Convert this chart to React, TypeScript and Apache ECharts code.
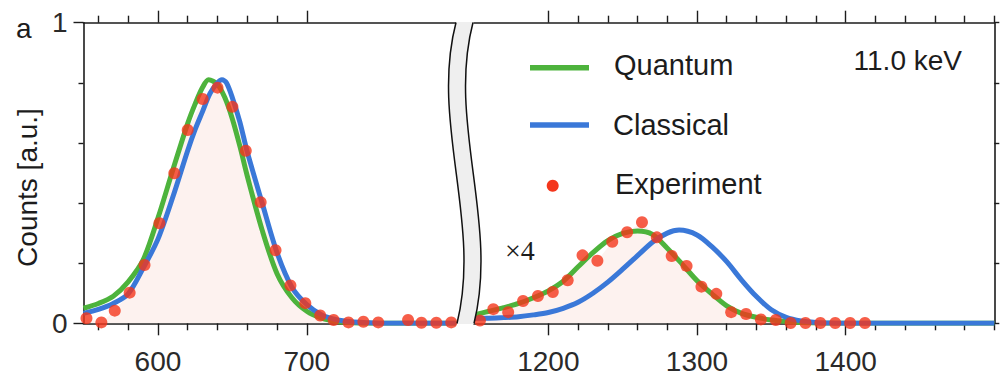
import React, { useEffect, useRef } from "react";
import * as echarts from "echarts";

// ---- Data ----
// Left segment (energy 550–800)
const quantumLeftX = [550, 560, 570, 580, 590, 600, 610, 620, 625, 630, 634, 640, 645, 650, 655, 660, 670, 680, 690, 700, 710, 720, 730, 740, 770, 800];
const quantumLeftY = [0.05, 0.066, 0.09, 0.138, 0.21, 0.35, 0.51, 0.665, 0.73, 0.785, 0.81, 0.795, 0.75, 0.68, 0.59, 0.49, 0.31, 0.165, 0.085, 0.04, 0.017, 0.006, 0.002, 0, 0, 0];
const classicalLeftX = [550, 560, 570, 580, 590, 600, 610, 620, 625, 630, 635, 640, 643, 646, 650, 655, 660, 670, 680, 690, 700, 710, 720, 730, 740, 750, 775, 800];
const classicalLeftY = [0.033, 0.046, 0.066, 0.098, 0.183, 0.28, 0.42, 0.575, 0.645, 0.705, 0.765, 0.8, 0.81, 0.8, 0.75, 0.67, 0.57, 0.4, 0.235, 0.12, 0.062, 0.028, 0.012, 0.005, 0.002, 0, 0, 0];
const experimentLeftX = [552, 562, 571, 581, 591, 601, 611, 620, 630, 640, 650, 659, 669, 679, 689, 699, 709, 718, 728, 738, 748, 768, 777, 787, 797];
const experimentLeftY = [0.017, 0.003, 0.042, 0.102, 0.194, 0.333, 0.499, 0.643, 0.746, 0.784, 0.72, 0.574, 0.403, 0.243, 0.126, 0.067, 0.026, 0.011, 0.003, 0.005, 0.003, 0.011, 0.002, 0.002, 0.003];

// Right segment (energy 1150–1500), shown ×4
const quantumRightX = [1150, 1160, 1170, 1180, 1190, 1200, 1210, 1220, 1230, 1240, 1250, 1260, 1270, 1280, 1290, 1300, 1310, 1320, 1330, 1340, 1350, 1360, 1370, 1380, 1390, 1450, 1500];
const quantumRightY = [0.028, 0.04, 0.052, 0.066, 0.085, 0.108, 0.14, 0.188, 0.235, 0.275, 0.299, 0.307, 0.296, 0.25, 0.197, 0.142, 0.098, 0.058, 0.033, 0.02, 0.011, 0.006, 0.003, 0.001, 0, 0, 0];
const classicalRightX = [1150, 1160, 1170, 1180, 1190, 1200, 1210, 1220, 1230, 1240, 1250, 1260, 1270, 1280, 1288, 1300, 1310, 1320, 1330, 1340, 1350, 1360, 1370, 1380, 1390, 1400, 1450, 1500];
const classicalRightY = [0.016, 0.017, 0.019, 0.022, 0.028, 0.036, 0.05, 0.07, 0.1, 0.137, 0.18, 0.225, 0.27, 0.3, 0.31, 0.294, 0.255, 0.205, 0.144, 0.089, 0.045, 0.02, 0.008, 0.003, 0.001, 0, 0, 0];
const experimentRightX = [1154, 1163, 1173, 1183, 1193, 1203, 1213, 1223, 1233, 1243, 1253, 1263, 1273, 1283, 1293, 1303, 1313, 1323, 1333, 1343, 1353, 1363, 1373, 1383, 1393, 1403, 1413];
const experimentRightY = [0.009, 0.047, 0.037, 0.074, 0.091, 0.104, 0.143, 0.226, 0.208, 0.271, 0.303, 0.336, 0.286, 0.224, 0.191, 0.122, 0.098, 0.037, 0.031, 0.013, 0.011, 0.001, 0.001, 0.001, 0.001, 0.001, 0.001];

// Axis ticks / labels
const leftMajorTicks = [600, 700];
const leftMinorTicks = [560, 580, 620, 640, 660, 680];
const rightMajorTicks = [1200, 1300, 1400];
const rightMinorTicks = [1220, 1240, 1260, 1280, 1320, 1340, 1360, 1380, 1420, 1440, 1460, 1480, 1500];
const yMajorTicks = [0, 1];
const yMinorTicks = [0.2, 0.4, 0.6, 0.8];
const yAllTicks = [0, 0.2, 0.4, 0.6, 0.8, 1];

const legendNames = ["Quantum", "Classical", "Experiment"];

// ---- Styles ----
const GREEN = "#4db33c";
const BLUE = "#3a78d8";
const RED = "#f4361c";
const FILL = "#fdf2ef";
const INK = "#1c1c1c";
const FONT = "'Liberation Sans', Arial, Helvetica, sans-serif";
const SERIF = "'Liberation Serif', 'Times New Roman', serif";
const SMOOTH = 0.3;

const breakFillPath = "M456,22 C430,122 482,223 457,324 L474,324 C499,223 447,122 473,22 Z";
echarts.graphic.registerShape("axisBreakFill", echarts.graphic.extendPath(breakFillPath, {}));

const pairs = (xs: number[], ys: number[]) => xs.map((x, i) => [x, ys[i]]);
const plain = (v: number) => String(v);

function xAxes(gridIndex: number, min: number, max: number, major: number[], minor: number[]) {
  const base = { type: "value", gridIndex, min, max, splitLine: { show: false } };
  const line = { show: true, onZero: false, lineStyle: { color: INK, width: 1.6 } };
  const tickStyle = { color: INK, width: 1.4 };
  return [
    {
      ...base,
      position: "bottom",
      axisLine: line,
      axisTick: { show: true, customValues: major, length: 12, lineStyle: tickStyle },
      axisLabel: { show: true, customValues: major, formatter: plain, fontSize: 28, color: "#2a2a2a", fontFamily: FONT, margin: 24 },
    },
    {
      ...base,
      position: "bottom",
      axisLine: { show: false, onZero: false },
      axisTick: { show: true, customValues: minor, length: 7, lineStyle: tickStyle },
      axisLabel: { show: false },
    },
    {
      ...base,
      position: "top",
      axisLine: line,
      axisTick: { show: true, customValues: major, length: 12, lineStyle: tickStyle },
      axisLabel: { show: false },
    },
    {
      ...base,
      position: "top",
      axisLine: { show: false, onZero: false },
      axisTick: { show: true, customValues: minor, length: 7, lineStyle: tickStyle },
      axisLabel: { show: false },
    },
  ];
}

export default function App() {
  const ref = useRef<HTMLDivElement>(null);
  useEffect(() => {
    document.body.style.margin = "0";
    const chart = echarts.init(ref.current!, null, { renderer: "svg" });
    const tickStyle = { color: INK, width: 1.4 };
    const option: any = {
      animation: false,
      textStyle: { fontFamily: FONT },
      grid: [
        { left: 83.5, top: 22.7, width: 372.2, height: 300.6 },
        { left: 474, top: 22.7, width: 520.3, height: 300.6 },
      ],
      xAxis: [
        ...xAxes(0, 550, 800, leftMajorTicks, leftMinorTicks),
        ...xAxes(1, 1150, 1500, rightMajorTicks, rightMinorTicks),
      ],
      yAxis: [
        {
          type: "value",
          gridIndex: 0,
          position: "left",
          min: 0,
          max: 1,
          splitLine: { show: false },
          axisLine: { show: true, onZero: false, lineStyle: { color: INK, width: 1.6 } },
          axisTick: { show: true, customValues: yMajorTicks, length: 10, lineStyle: tickStyle },
          axisLabel: { show: true, customValues: yMajorTicks, formatter: plain, fontSize: 28, color: "#2a2a2a", fontFamily: FONT, margin: 16 },
        },
        {
          type: "value",
          gridIndex: 0,
          position: "left",
          min: 0,
          max: 1,
          splitLine: { show: false },
          axisLine: { show: false, onZero: false },
          axisTick: { show: true, customValues: yMinorTicks, length: 5, lineStyle: tickStyle },
          axisLabel: { show: false },
        },
        {
          type: "value",
          gridIndex: 1,
          position: "right",
          min: 0,
          max: 1,
          splitLine: { show: false },
          axisLine: { show: true, onZero: false, lineStyle: { color: INK, width: 1.6 } },
          axisTick: { show: true, customValues: yAllTicks, length: 5, lineStyle: tickStyle },
          axisLabel: { show: false },
        },
      ],
      series: [
        // left segment
        {
          type: "line", xAxisIndex: 0, yAxisIndex: 0, data: pairs(experimentLeftX, experimentLeftY),
          symbol: "none", lineStyle: { width: 0, opacity: 0 }, areaStyle: { color: FILL, opacity: 1 }, z: 1, silent: true,
        },
        {
          type: "line", name: legendNames[0], xAxisIndex: 0, yAxisIndex: 0, data: pairs(quantumLeftX, quantumLeftY),
          symbol: "none", smooth: SMOOTH, lineStyle: { color: GREEN, width: 5 }, z: 2,
        },
        {
          type: "line", name: legendNames[1], xAxisIndex: 0, yAxisIndex: 0, data: pairs(classicalLeftX, classicalLeftY),
          symbol: "none", smooth: SMOOTH, lineStyle: { color: BLUE, width: 5 }, z: 3,
        },
        {
          type: "scatter", name: legendNames[2], xAxisIndex: 0, yAxisIndex: 0, data: pairs(experimentLeftX, experimentLeftY),
          symbolSize: 12, itemStyle: { color: RED }, z: 4,
        },
        // right segment
        {
          type: "line", xAxisIndex: 4, yAxisIndex: 2, data: pairs(experimentRightX, experimentRightY),
          symbol: "none", lineStyle: { width: 0, opacity: 0 }, areaStyle: { color: FILL, opacity: 1 }, z: 1, silent: true,
        },
        {
          type: "line", name: legendNames[0], xAxisIndex: 4, yAxisIndex: 2, data: pairs(quantumRightX, quantumRightY),
          symbol: "none", smooth: SMOOTH, lineStyle: { color: GREEN, width: 5 }, z: 2,
        },
        {
          type: "line", name: legendNames[1], xAxisIndex: 4, yAxisIndex: 2, data: pairs(classicalRightX, classicalRightY),
          symbol: "none", smooth: SMOOTH, lineStyle: { color: BLUE, width: 5 }, z: 3,
        },
        {
          type: "scatter", name: legendNames[2], xAxisIndex: 4, yAxisIndex: 2, data: pairs(experimentRightX, experimentRightY),
          symbolSize: 12, itemStyle: { color: RED }, z: 4,
        },
      ],
      graphic: [
        // axis break band
        { type: "axisBreakFill", x: 0, y: 0, z: 100, silent: true, style: { fill: "#efefef", stroke: null } },
        {
          type: "bezierCurve", z: 101, silent: true,
          shape: { x1: 456, y1: 22.5, cpx1: 430, cpy1: 122, cpx2: 482, cpy2: 223, x2: 457, y2: 323.5 },
          style: { stroke: "#111", lineWidth: 1.5, fill: null },
        },
        {
          type: "bezierCurve", z: 101, silent: true,
          shape: { x1: 473, y1: 22.5, cpx1: 447, cpy1: 122, cpx2: 499, cpy2: 223, x2: 474, y2: 323.5 },
          style: { stroke: "#111", lineWidth: 1.5, fill: null },
        },
        // panel label and axis title
        { type: "text", x: 16, y: 28, z: 50, style: { text: "a", fontSize: 28, fontFamily: FONT, fill: INK, align: "left", verticalAlign: "middle" } },
        {
          type: "text", x: 27, y: 187.5, rotation: Math.PI / 2, z: 50,
          style: { text: "Counts [a.u.]", fontSize: 28, fontFamily: FONT, fill: INK, align: "center", verticalAlign: "middle" },
        },
        // legend
        { type: "line", z: 50, shape: { x1: 530, y1: 67.7, x2: 589, y2: 67.7 }, style: { stroke: GREEN, lineWidth: 5.5 } },
        { type: "text", x: 614, y: 65, z: 50, style: { text: legendNames[0], fontSize: 29, fontFamily: FONT, fill: INK, align: "left", verticalAlign: "middle" } },
        { type: "line", z: 50, shape: { x1: 530, y1: 125, x2: 589, y2: 125 }, style: { stroke: BLUE, lineWidth: 5.5 } },
        { type: "text", x: 613, y: 124.5, z: 50, style: { text: legendNames[1], fontSize: 29, fontFamily: FONT, fill: INK, align: "left", verticalAlign: "middle" } },
        { type: "circle", z: 50, shape: { cx: 552.7, cy: 185.7, r: 6 }, style: { fill: RED } },
        { type: "text", x: 615, y: 184, z: 50, style: { text: legendNames[2], fontSize: 29, fontFamily: FONT, fill: INK, align: "left", verticalAlign: "middle" } },
        // annotations
        { type: "text", x: 962, y: 60.5, z: 50, style: { text: "11.0 keV", fontSize: 28, fontFamily: FONT, fill: INK, align: "right", verticalAlign: "middle" } },
        { type: "text", x: 505, y: 250.5, z: 50, style: { text: "×4", fontSize: 28, fontFamily: SERIF, fill: INK, align: "left", verticalAlign: "middle" } },
      ],
    };
    chart.setOption(option);
    return () => chart.dispose();
  }, []);
  return <div ref={ref} style={{ width: 1002, height: 376 }} />;
}
